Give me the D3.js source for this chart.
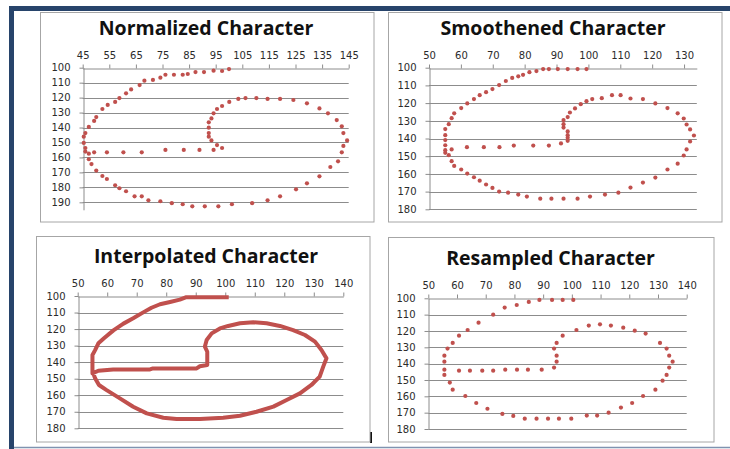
<!DOCTYPE html>
<html lang="en">
<head>
    <meta charset="UTF-8">
    <title>Character stages</title>
    <script src="https://d3js.org/d3.v7.min.js"></script>
    <style>
        body { margin: 0; background: #fff; }
        .tick text { font-family: "DejaVu Sans", sans-serif; font-size: 10px; fill: #2b2b2b; }
        .title { font-family: "Open Sans", sans-serif; font-weight: 700; font-size: 19.5px; fill: #111; }
    </style>
</head>
<body>
    <svg width="730" height="449"></svg>
    <script>
        // ---- data ----
        var normX = [100, 97.4, 94.2, 90.6, 87.4, 84.5, 82.6, 79.3, 76.1, 74.2, 71.4, 68.2, 66.4, 63.2, 61.3, 58.8, 57.2, 54.4, 52.4, 50.1, 49.3, 47.3, 46, 45.4, 45.4, 46, 46, 47.3,
            49.3, 54.1, 60.3, 67.2, 76.1, 83, 88.9, 94.2, 97.4, 95.5, 93.4, 92.4, 92.4, 92.4, 92.4, 93.4, 94.2, 95.5, 97.4, 100.1, 103.5, 106.2, 110.3, 114.5, 119.2, 124.2,
            129.3, 134, 137.2, 140.5, 142.4, 143, 144.4, 143, 142.4, 141, 138.1, 134, 129.3, 125.2, 119.2, 114.5, 108.7, 101.1, 96, 90.9, 86.2, 82.6, 78.5, 74.2, 69.7,
            67.2, 64.5, 61.3, 58.8, 57.2, 54.1, 52.4, 50.1, 48.3, 47.3];
        var normY = [100.9, 102.2, 102, 102.9, 102.9, 104.2, 104.7, 104.7, 104.7, 106.7, 108.2, 108.7, 111.6, 114.5, 117.1, 120.3, 122.9, 124.9, 127.6, 133, 135.6, 139.6, 143.7, 146.1, 150.3, 153.7, 156.1, 157.5,
            156.6, 156.6, 156.6, 156.6, 155, 155, 155, 155, 153.7, 151.7, 148.6, 146.1, 143.7, 140.1, 136.5, 133.9, 130.5, 127.6, 125.6, 122.9, 120.9, 120.3, 120.3, 120.9, 120.9, 121.6,
            123.8, 127.2, 130.5, 135, 139.2, 143.7, 148.6, 152.3, 156.6, 162.6, 166.4, 172.6, 177.3, 181.3, 186, 188.6, 190.6, 191.3, 192.7, 192.7, 192.7, 191.3, 190.6, 189.3, 188.6,
            186, 186, 182.6, 180.6, 178.6, 174.4, 172.4, 168.8, 164.4, 161.2];

        var smoothX = [99.4, 96.6, 93.5, 90.4, 87.6, 85.8, 83.7, 81.5, 79.5, 78, 76.1, 74.1, 72, 69.9, 67.9, 65.9, 64.1, 62, 60.1, 57.9, 57.1, 56.2, 55.1, 55.1, 55.1, 55.1, 55.1, 55.1,
            56.2, 57.1, 57.1, 57.9, 60.1, 62, 64.1, 65.9, 67.9, 69.9, 72, 74.8, 78, 80.7, 84.9, 88.4, 92.2, 96.6, 100.5, 105.2, 109.4, 113.2, 117.1, 121, 124.8, 128, 129.9,
            130.8, 131.9, 133.1, 131.9, 130.8, 129.9, 128, 124.8, 121, 117.1, 113.2, 110.1, 107.4, 104.2, 101.2, 99.4, 97.6, 95.8, 94.2, 93.5, 92.2, 92.2, 92.2, 93.5, 93.5,
            93.5, 93.5, 91.4, 87.6, 82.7, 76.6, 72.1, 67.2, 61.9];
        var smoothY = [100.8, 100.8, 100.8, 100.8, 100.8, 100.8, 101.9, 102.5, 104, 104.9, 105.8, 107.5, 109.8, 112.1, 113.8, 115.5, 117.7, 120.2, 122.8, 125.8, 128.5, 131.9, 134.7, 138.1, 140.9, 143.8, 146.6, 148.1,
            149.4, 146.2, 152.8, 155.5, 157.5, 159.8, 161.9, 163.8, 166, 167.9, 170, 170.6, 171.7, 172.8, 174, 174, 174, 174, 172.8, 171.7, 170.6, 167.7, 164.9, 162.1, 157.5, 154.2, 149.6,
            146.2, 141.7, 138.3, 134.9, 132.1, 128.7, 125.8, 122.8, 120.2, 117.7, 117.4, 115.5, 115.5, 117.2, 117.7, 118.9, 120.6, 123, 125.3, 127.9, 129.6, 131.9, 133.8, 136, 138.1,
            139.6, 141.3, 142.8, 144, 144, 144, 144.9, 144.9, 144.9];

        var interpX = [100.5, 86.6, 84.6, 81.3, 77.9, 75, 72.2, 68.8, 65.5, 62.1, 58.9, 57, 55.9, 55, 55, 57, 62, 74.5, 75.5, 90.3, 91.4, 93.9, 93.9, 93.1, 93.7, 95.4, 98.2, 101,
            105, 109.5, 114, 118.5, 123, 127, 130.4, 132.6, 134.3, 133.2, 132, 129.2, 125.3, 120.8, 116.3, 110.6, 105, 99.3, 91.4, 83.5, 79, 73.4, 68.8, 64.3, 59.8, 57.2, 55.9, 55.3];
        var interpY = [100.8, 100.8, 102.2, 103.6, 105, 107.1, 109.9, 113.5, 116.7, 120.8, 125.6, 128.6, 132.7, 135.7, 146.8, 145.2, 144.4, 144.4, 143.8, 143.8, 142.5, 141.7, 133.7, 130.6, 126.6, 122.6, 119.6, 118.1,
            116.5, 115.9, 116.5, 118.1, 120.6, 123.6, 127.6, 132.7, 137.7, 142.7, 148.8, 153.8, 158.9, 162.9, 166.9, 170, 172.4, 173.6, 174.4, 174.4, 173.6, 171, 167, 161.9, 156.9, 153.8, 149.8, 146.8];

        var resampX = [100.5, 96.8, 93.1, 88.7, 85, 80.8, 76.6, 72.6, 67.5, 63.7, 60.7, 58.5, 56.7, 55.6, 55.6, 55.6, 55.6, 57.5, 58.5, 62.9, 66.7, 70.6, 75.8, 79.6, 83.6, 87.7, 91.7, 95.5,
            99.8, 105.2, 108.8, 112.8, 117.1, 121, 124.8, 129.1, 131.6, 133, 133.9, 135.1, 133.9, 133, 130.7, 125.7, 121.9, 117.9, 113.6, 109.8, 105.9, 101.6, 96.8, 94.7, 93.8,
            94.7, 94.7, 93.8, 89.5, 84.7, 80.9, 76.8, 72.6, 68.8, 64.5, 60.7];
        var resampY = [101, 101, 101, 101, 102.2, 104.1, 105.7, 110, 114.9, 119.4, 122.9, 127.3, 130.8, 135.1, 138.8, 143.7, 146.9, 151.6, 155.9, 159.8, 164.1, 167.6, 170.8, 172, 173.7, 173.7, 173.7, 173.7,
            173.7, 171.8, 171.8, 170, 166.9, 164.1, 159.8, 155.9, 150.4, 146.9, 142.4, 138.8, 135.1, 130.8, 127.3, 121.6, 119.8, 118, 116.7, 115.9, 116.7, 119.4, 122.9, 127.3, 130.8,
            135.1, 138.8, 142.4, 143.7, 143.7, 143.7, 143.7, 144.3, 144.3, 144.3, 144.3];

        var titles = ['Normalized Character', 'Smoothened Character', 'Interpolated Character', 'Resampled Character'];
        var xTicksNorm = [45, 55, 65, 75, 85, 95, 105, 115, 125, 135, 145];
        var yTicksNorm = [100, 110, 120, 130, 140, 150, 160, 170, 180, 190];
        var xTicksSmooth = [50, 60, 70, 80, 90, 100, 110, 120, 130];
        var xTicks = [50, 60, 70, 80, 90, 100, 110, 120, 130, 140];
        var yTicks = [100, 110, 120, 130, 140, 150, 160, 170, 180];

        var red = '#c0504d';
        var grid = '#8c8c8c';
        var svg = d3.select('svg');

        // frame round the whole figure
        svg.append('rect').attr('x', 9).attr('y', 6).attr('width', 730).attr('height', 5).attr('fill', '#27446b');
        svg.append('rect').attr('x', 9).attr('y', 6).attr('width', 5).attr('height', 449).attr('fill', '#27446b');
        svg.append('line').attr('x1', 14).attr('x2', 730).attr('y1', 447.5).attr('y2', 447.5)
            .attr('stroke', '#7f93b0').attr('stroke-width', 1.5);
        svg.append('rect').attr('x', 370).attr('y', 432).attr('width', 2).attr('height', 11).attr('fill', '#111');

        var panels = [
            { title: titles[0], xs: normX, ys: normY, xd: [45, 145], yd: [100, 195], xt: xTicksNorm, yt: yTicksNorm,
              box: [40.5, 12.5, 374, 222], px: [82.7, 348.7], py: [67.7, 209.8], tx: 206, ty: 34.5, line: false },
            { title: titles[1], xs: smoothX, ys: smoothY, xd: [50, 134], yd: [100, 180], xt: xTicksSmooth, yt: yTicks,
              box: [388.5, 12.5, 722, 222], px: [429, 696.8], py: [67.7, 209.3], tx: 553, ty: 34.5, line: false },
            { title: titles[2], xs: interpX, ys: interpY, xd: [50, 140], yd: [100, 180], xt: xTicks, yt: yTicks,
              box: [36.5, 236.5, 370, 442], px: [77.7, 343.3], py: [296, 428.3], tx: 206, ty: 263, line: true },
            { title: titles[3], xs: resampX, ys: resampY, xd: [50, 140], yd: [100, 180], xt: xTicks, yt: yTicks,
              box: [388.5, 237.5, 714, 442], px: [428.3, 686.7], py: [298.3, 429], tx: 550.5, ty: 264.5, line: false }
        ];

        panels.forEach(function (p) {
            var g = svg.append('g');
            g.append('rect')
                .attr('x', p.box[0]).attr('y', p.box[1])
                .attr('width', p.box[2] - p.box[0]).attr('height', p.box[3] - p.box[1])
                .attr('fill', '#fff').attr('stroke', '#a6a6a6').attr('stroke-width', 1);

            g.append('text').attr('class', 'title')
                .attr('x', p.tx).attr('y', p.ty)
                .attr('text-anchor', 'middle')
                .text(p.title);

            var x = d3.scaleLinear().domain(p.xd).range(p.px);
            var y = d3.scaleLinear().domain(p.yd).range(p.py);

            // horizontal gridlines
            g.selectAll('line.grid').data(p.yt.slice(1)).enter().append('line')
                .attr('class', 'grid')
                .attr('x1', p.px[0]).attr('x2', p.px[1])
                .attr('y1', d => Math.round(y(d)) + 0.5).attr('y2', d => Math.round(y(d)) + 0.5)
                .attr('stroke', grid).attr('stroke-width', 1);

            var xAxis = g.append('g')
                .attr('transform', 'translate(0,' + (Math.round(p.py[0]) + 0.5) + ')')
                .call(d3.axisTop(x).tickValues(p.xt).tickSizeInner(4).tickSizeOuter(0).tickPadding(6));
            var yAxis = g.append('g')
                .attr('transform', 'translate(' + (Math.round(p.px[0]) + 0.5) + ',0)')
                .call(d3.axisLeft(y).tickValues(p.yt).tickSizeInner(4).tickSizeOuter(0).tickPadding(9));
            [xAxis, yAxis].forEach(function (a) {
                a.select('.domain').attr('stroke', grid);
                a.selectAll('.tick line').attr('stroke', grid);
            });

            var pts = p.xs.map((v, i) => [v, p.ys[i]]);
            if (p.line) {
                g.append('path').datum(pts)
                    .attr('d', d3.line().x(d => x(d[0])).y(d => y(d[1])))
                    .attr('fill', 'none').attr('stroke', red)
                    .attr('stroke-width', 4).attr('stroke-linejoin', 'round').attr('stroke-linecap', 'square');
            } else {
                g.selectAll('circle').data(pts).enter().append('circle')
                    .attr('cx', d => x(d[0])).attr('cy', d => y(d[1]))
                    .attr('r', 2.1).attr('fill', red);
            }
        });
    </script>
</body>
</html>
